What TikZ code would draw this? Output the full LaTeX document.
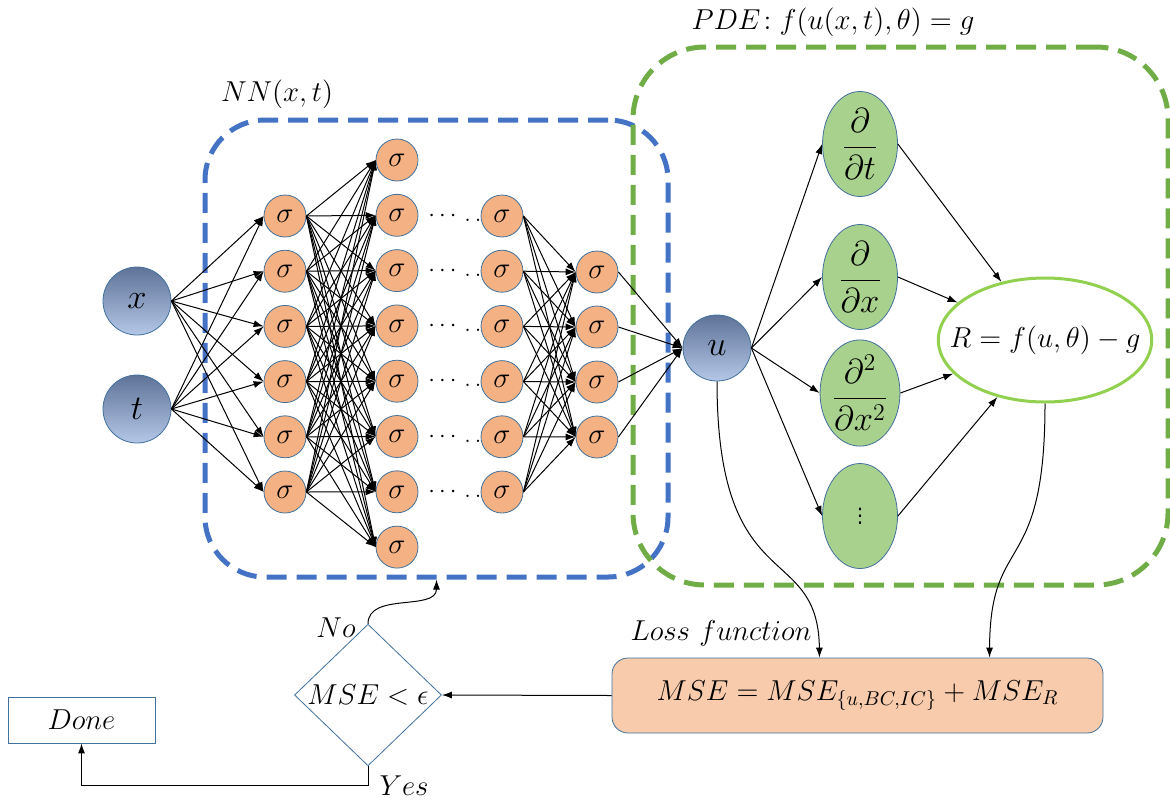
\documentclass[tikz,border=0pt]{standalone}
\usepackage{fontspec}
\usepackage{xcolor}
\usepackage{tikz}
\usetikzlibrary{positioning, shapes.geometric, arrows.meta}

\newfontfamily\symbfont{DejaVu Sans}
\definecolor{nodeline}{HTML}{41719C}
\definecolor{sigfill}{HTML}{F4B183}
\definecolor{inTop}{HTML}{5F7399}
\definecolor{inBot}{HTML}{B4C7E7}
\definecolor{derivfill}{HTML}{A9D18E}
\definecolor{lossfill}{HTML}{F8CBAD}
\definecolor{nnblue}{HTML}{4472C4}
\definecolor{pdegreen}{HTML}{70AD47}
\definecolor{resgreen}{HTML}{92D050}

\begin{document}
\begin{tikzpicture}[x=0.5pt, y=-0.5pt,
  arr/.style={-{Latex[length=5pt,width=3.5pt]}, line width=0.5pt},
  sig/.style={circle, draw=nodeline, fill=sigfill, minimum size=21pt, inner sep=0pt, font=\Large},
  inp/.style={circle, draw=nodeline, top color=inTop, bottom color=inBot, minimum size=34pt, inner sep=0pt, font=\LARGE},
  deriv/.style={ellipse, draw=nodeline, fill=derivfill, minimum width=37.5pt, minimum height=52.5pt, inner sep=0pt, font=\LARGE},
  dashbox/.style={draw, rectangle, line width=2.5pt, dash pattern=on 10pt off 5pt, inner sep=0pt}]
  \useasboundingbox (0,0) rectangle (1170,803);

  % dashed frames
  \node[dashbox, draw=nnblue, rounded corners=30pt, minimum width=231.5pt, minimum height=228.5pt] (nn) at (436.5,348.5) {};
  \node[dashbox, draw=pdegreen, rounded corners=36pt, minimum width=267.5pt, minimum height=269pt] (pde) at (900.5,316) {};
  \node[font=\Large] (nnlabel) at (277,94) {$NN(x,t)$};
  \node[font=\Large] (pdelabel) at (833,22) {$PDE\!: f(u(x,t),\theta) = g$};

  % network
  \node[inp] (x) at (137,301) {$x$};
  \node[inp] (t) at (137,409) {$t$};
  \foreach \i [evaluate=\i as \y using {216+55.2*(\i-1)}] in {1,...,6} {
    \node[sig] (a\i) at (285,\y) {$\sigma$};
    \node[sig] (c\i) at (502,\y) {$\sigma$};
    \node[font=\large] (dots\i) at (455,\y) {$\cdots\,.\,.$};
  }
  \foreach \i [evaluate=\i as \y using {160+55.3*(\i-1)}] in {1,...,8}
    \node[sig] (b\i) at (397,\y) {$\sigma$};
  \foreach \i [evaluate=\i as \y using {272+55*(\i-1)}] in {1,...,4}
    \node[sig] (d\i) at (597,\y) {$\sigma$};
  \node[inp, minimum width=34pt, minimum height=33pt, ellipse] (u) at (717,348) {$u$};

  \foreach \i in {1,...,6} {
    \draw[arr] (x.east) -- (a\i.west);
    \draw[arr] (t.east) -- (a\i.west);
    \foreach \j in {1,...,8}
      \draw[arr] (a\i.east) -- (b\j.west);
    \foreach \j in {1,...,4}
      \draw[arr] (c\i.east) -- (d\j.west);
  }
  \foreach \j in {1,...,4}
    \draw[arr] (d\j.east) -- (u.west);

  % residual part
  \node[deriv] (p1) at (860,144) {$\displaystyle\frac{\partial}{\partial t}$};
  \node[deriv] (p2) at (860,277) {$\displaystyle\frac{\partial}{\partial x}$};
  \node[deriv] (p3) at (860,393) {$\displaystyle\frac{\partial^2}{\partial x^2}$};
  \node[deriv, font=\normalsize\symbfont] (p4) at (860,516) {⋮};
  \node[ellipse, draw=resgreen, line width=1.5pt, fill=white, minimum height=62pt, inner xsep=-10pt, inner ysep=6pt, font=\Large] (R) at (1045,340) {$R = f(u,\theta) - g$};
  \foreach \i in {1,...,4} {
    \draw[arr] (u.east) -- (p\i.west);
    \draw[arr] (p\i.east) -- (R);
  }

  % loss and stopping test
  \node[draw=nodeline, fill=lossfill, rounded corners=8pt, minimum width=245.5pt, minimum height=37.5pt, font=\Large] (loss) at (857.5,695.5) {$MSE = MSE_{\{u,BC,IC\}} + MSE_R$};
  \node[font=\Large, above right=2pt and 6pt of loss.north west] (losslabel) {$Loss\ function$};
  \node[diamond, draw=nodeline, minimum width=73.5pt, minimum height=63pt, inner sep=0pt, font=\Large] (check) at (368,695) {$MSE < \epsilon$};
  \node[draw=nodeline, minimum width=73.5pt, minimum height=23pt, font=\Large] (done) at (81.5,720) {$Done$};
  \node[font=\Large] (no) at (336,628) {$No$};
  \node[font=\Large] (yes) at (404,786) {$Yes$};

  \draw[arr] (u.south) .. controls (717,600) and (818,540) .. ([xshift=-19pt]loss.north);
  \draw[arr] (R.south) .. controls (1045,580) and (990,530) .. ([xshift=66pt]loss.north);
  \draw[arr] (loss.west) -- (check.east);
  \draw[arr] (check.north) to[out=90, in=-90] (nn.south);
  \draw[arr] (check.south) -- (check.south |- 0,785) -| (done.south);
\end{tikzpicture}
\end{document}
